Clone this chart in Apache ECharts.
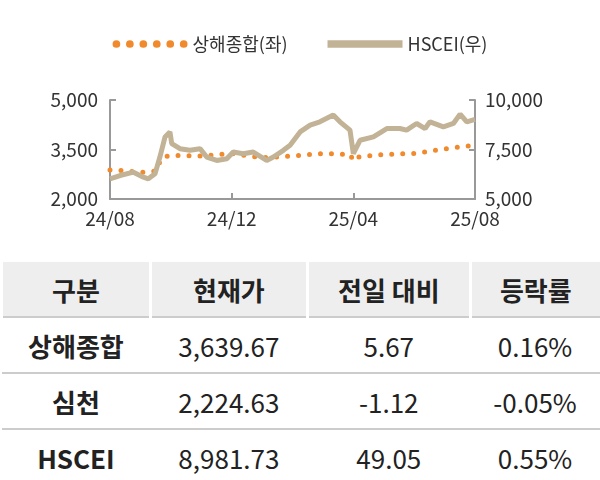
<!DOCTYPE html><html><head><meta charset="utf-8">
<script src="https://cdn.jsdelivr.net/npm/echarts@6/dist/echarts.min.js"></script>
<style>body{margin:0;width:600px;height:480px;overflow:hidden;background:#fff;font-family:"Noto Sans CJK KR","Noto Sans",sans-serif}
#c{position:absolute;left:0;top:0;width:600px;height:255px}
table{position:absolute;left:0;top:262px;width:600px;border-collapse:collapse;font-size:26px;color:#222}
td,th{text-align:center;height:54px;padding:0;border-bottom:2px solid #ccc}
th{background:#eee;font-weight:bold;border-left:3px solid #fff}
td:first-child{font-weight:bold}
</style></head><body><div id="c"></div>
<table id="t"></table>
<script>
const xLabels=['24/08','24/12','25/04','25/08'];
const hsceiX=[0,0.33,0.77,1.10,1.26,1.48,1.64,1.81,1.97,2.03,2.30,2.63,2.96,3.18,3.51,3.84,4.05,4.38,4.71,5.15,5.37,5.70,5.92,6.25,6.58,6.90,7.34,7.56,7.89,8.00,8.22,8.66,9.10,9.53,9.75,10.08,10.36,10.52,10.96,11.29,11.51,11.73,12.0];
const hsceiY=[6017,6186,6356,6102,6017,6271,7119,8136,8390,7797,7542,7458,7542,7119,6949,7034,7373,7288,7373,6949,7119,7458,7712,8390,8729,8898,9237,8898,8475,7288,7966,8136,8559,8559,8475,8814,8559,8898,8644,8814,9288,8898,9017];
const shX=[0,0.5,1,1.5,1.7,2,3,4,5,6,7,7.9,8.0,8.2,9,10,11,12];
const shY=[2880,2860,2800,2850,3250,3320,3300,3380,3250,3300,3380,3350,3150,3280,3350,3380,3520,3630];
const header=['구분','현재가','전일 대비','등락률'];
const rows=[['상해종합','3,639.67','5.67','0.16%'],['심천','2,224.63','-1.12','-0.05%'],['HSCEI','8,981.73','49.05','0.55%']];
const t=document.getElementById('t');
t.innerHTML='<tr>'+header.map(h=>'<th>'+h+'</th>').join('')+'</tr>'+rows.map(r=>'<tr>'+r.map(c=>'<td>'+c+'</td>').join('')+'</tr>').join('');
const ch=echarts.init(document.getElementById('c'));
const dots='path://'+[0,14,28,42,56,70].map(x=>'M'+x+',4a4,4 0 1,0 8,0a4,4 0 1,0 -8,0').join('');
ch.setOption({
 animation:false,textStyle:{fontFamily:'Noto Sans CJK KR'},
 legend:{top:30,left:'center',itemWidth:75,itemHeight:8,itemGap:40,textStyle:{fontSize:18,color:'#333'},
   data:[{name:'상해종합(좌)',icon:dots,itemStyle:{color:'#f08a2c'}},{name:'HSCEI(우)',icon:'path://M0,0H80V8H0Z'}]},
 grid:{left:110,right:125,top:100,bottom:56},
 xAxis:{type:'value',min:0,max:12,interval:4,axisLine:{lineStyle:{color:'#999',width:2}},
   axisTick:{inside:true,length:6,lineStyle:{color:'#999',width:2}},splitLine:{show:false},
   axisLabel:{fontSize:19,color:'#333',margin:10,formatter:v=>xLabels[v/4]}},
 yAxis:[{type:'value',min:2000,max:5000,interval:1500,axisLine:{show:true,lineStyle:{color:'#999',width:2}},
   axisTick:{show:true,inside:true,length:6,lineStyle:{color:'#999',width:2}},splitLine:{show:false},
   axisLabel:{fontSize:19,color:'#333',margin:12,formatter:v=>v.toLocaleString('en-US')}},
  {type:'value',min:5000,max:10000,interval:2500,axisLine:{show:true,lineStyle:{color:'#999',width:2}},
   axisTick:{show:true,inside:true,length:6,lineStyle:{color:'#999',width:2}},splitLine:{show:false},
   axisLabel:{fontSize:19,color:'#333',margin:10,formatter:v=>v.toLocaleString('en-US')}}],
 series:[
  {name:'상해종합(좌)',type:'line',yAxisIndex:0,showSymbol:false,data:shX.map((x,i)=>[x,shY[i]]),
   itemStyle:{color:'#f08a2c'},lineStyle:{color:'#f08a2c',width:5,type:[0,11],cap:'round'},z:1},
  {name:'HSCEI(우)',type:'line',yAxisIndex:1,showSymbol:false,data:hsceiX.map((x,i)=>[x,hsceiY[i]]),
   itemStyle:{color:'#c2b396'},lineStyle:{color:'#c2b396',width:5},z:2}
 ]
});
</script></body></html>
